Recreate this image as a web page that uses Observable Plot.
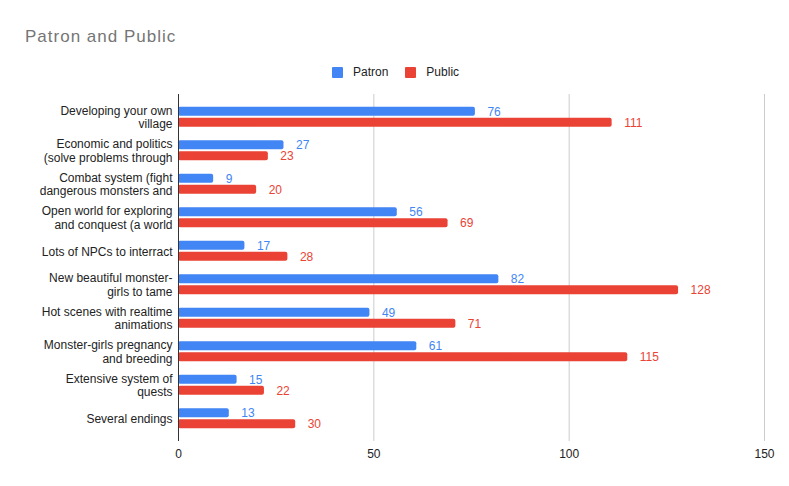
<!DOCTYPE html>
<html>
<head>
<meta charset="utf-8">
<script src="https://cdn.jsdelivr.net/npm/d3@7"></script>
<script src="https://cdn.jsdelivr.net/npm/@observablehq/plot@0.6"></script>
<style>
  html, body { margin: 0; padding: 0; background: #fff; }
  #wrap { position: relative; width: 789px; height: 486px; font-family: "Liberation Sans", Arial, sans-serif; }
  #title { position: absolute; left: 25px; top: 28px; font-size: 17px; line-height: 17px; letter-spacing: 1px; color: #757575; white-space: nowrap; }
  #legend { position: absolute; left: 332px; top: 66px; display: flex; align-items: center; font-size: 12px; line-height: 12px; color: #222; }
  #legend .sw { display: inline-block; width: 11px; height: 11px; border-radius: 1px; }
  #legend .lb { margin-left: 10px; margin-right: 17px; }
  #chart { position: absolute; left: 0; top: 0; }
</style>
</head>
<body>
<div id="wrap">
  <div id="chart"></div>
  <div id="title">Patron and Public</div>
  <div id="legend"></div>
</div>
<script>
const categories = [
  "Developing your own\nvillage",
  "Economic and politics\n(solve problems through",
  "Combat system (fight\ndangerous monsters and",
  "Open world for exploring\nand conquest (a world",
  "Lots of NPCs to interract",
  "New beautiful monster-\ngirls to tame",
  "Hot scenes with realtime\nanimations",
  "Monster-girls pregnancy\nand breeding",
  "Extensive system of\nquests",
  "Several endings"
];
const patron = [76, 27, 9, 56, 17, 82, 49, 61, 15, 13];
const publicVals = [111, 23, 20, 69, 28, 128, 71, 115, 22, 30];
const seriesNames = ["Patron", "Public"];
const seriesColors = ["#4285F4", "#EA4335"];
const xTicks = [0, 50, 100, 150];

const patronData = categories.map((c, i) => ({category: c, value: patron[i]}));
const publicData = categories.map((c, i) => ({category: c, value: publicVals[i]}));

const font = "'Liberation Sans', Arial, sans-serif";

const chart = Plot.plot({
  width: 789,
  height: 486,
  marginLeft: 178,
  marginRight: 25,
  marginTop: 94,
  marginBottom: 45,
  style: {fontFamily: font, fontSize: "12px", color: "#222", background: "transparent"},
  x: {domain: [0, 150], ticks: xTicks},
  y: {domain: categories, paddingInner: 0, paddingOuter: 0.18, round: false, label: null},
  marks: [
    Plot.gridX(xTicks.slice(1), {stroke: "#cccccc", strokeOpacity: 1}),
    Plot.barX(patronData, {x: "value", y: "category", fill: seriesColors[0], insetTop: 6.75, insetBottom: 17.75, rx: 2}),
    Plot.barX(publicData, {x: "value", y: "category", fill: seriesColors[1], insetTop: 17.75, insetBottom: 6.75, rx: 2}),
    Plot.ruleX([0], {stroke: "#333333"}),
    Plot.text(patronData, {x: "value", y: "category", text: d => String(d.value), dx: 12, dy: -5.5, textAnchor: "start", fill: seriesColors[0], fontSize: 12}),
    Plot.text(publicData, {x: "value", y: "category", text: d => String(d.value), dx: 12, dy: 5.5, textAnchor: "start", fill: seriesColors[1], fontSize: 12}),
    Plot.axisX(xTicks, {tickSize: 0, tickPadding: 8, label: null, fill: "#222", fontSize: 12}),
    Plot.axisY({tickSize: 0, tickPadding: 6, label: null, fill: "#222", fontSize: 12, lineHeight: 1.12})
  ]
});
document.getElementById("chart").appendChild(chart);

const legend = document.getElementById("legend");
seriesNames.forEach((name, i) => {
  const sw = document.createElement("span");
  sw.className = "sw";
  sw.style.background = seriesColors[i];
  const lb = document.createElement("span");
  lb.className = "lb";
  lb.textContent = name;
  legend.appendChild(sw);
  legend.appendChild(lb);
});
</script>
</body>
</html>
